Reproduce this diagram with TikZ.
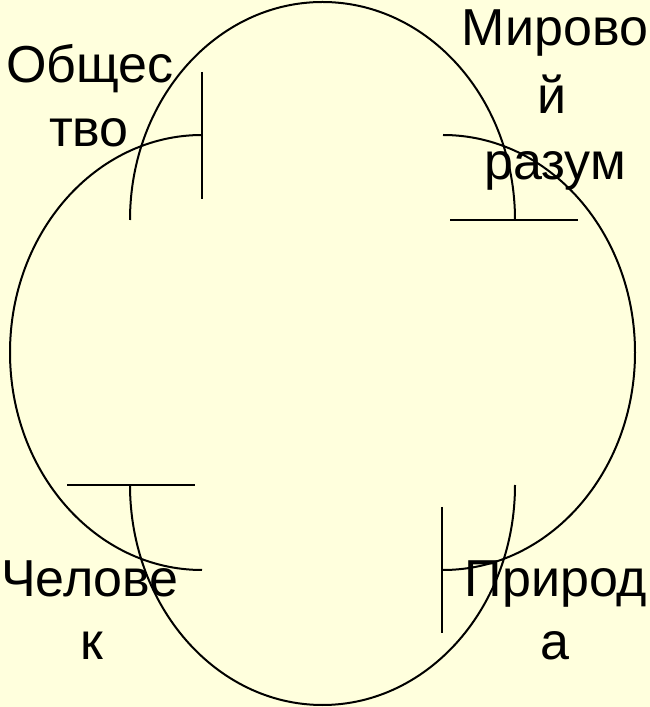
\documentclass[tikz,border=0pt]{standalone}
\usepackage{fontspec}
\setmainfont{Liberation Sans}
\definecolor{bgyellow}{RGB}{255,255,221}
\begin{document}
\begin{tikzpicture}[x=1pt,y=1pt,
  curve/.style={draw=black,line width=2pt},
  lbl/.style={anchor=base,inner sep=0pt,font=\fontsize{52}{57}\selectfont}]
\fill[bgyellow] (0,0) rectangle (650,707);
\useasboundingbox (0,0) rectangle (650,707);
% vertical pair of half-ellipses
\coordinate (tl) at (130,487);
\coordinate (bl) at (130,222);
\draw[curve] (tl) arc[start angle=180,end angle=0,x radius=192.5,y radius=218];
\draw[curve] (bl) arc[start angle=180,end angle=360,x radius=192.5,y radius=220];
% horizontal pair of half-ellipses
\coordinate (lt) at (202,572);
\coordinate (rt) at (443,572);
\draw[curve] (lt) arc[start angle=90,end angle=270,x radius=192,y radius=217.5];
\draw[curve] (rt) arc[start angle=90,end angle=-90,x radius=192,y radius=217.5];
% bars
\coordinate (b1a) at (202,635); \coordinate (b1b) at (202,508);
\coordinate (b2a) at (450,487); \coordinate (b2b) at (578,487);
\coordinate (b3a) at (67,222);  \coordinate (b3b) at (195,222);
\coordinate (b4a) at (442,200); \coordinate (b4b) at (442,74);
\draw[curve] (b1a) -- (b1b);
\draw[curve] (b2a) -- (b2b);
\draw[curve] (b3a) -- (b3b);
\draw[curve] (b4a) -- (b4b);
% labels
\node[lbl] (o1) at (90,624) {Общес};
\node[lbl] (o2) at (89,560) {тво};
\node[lbl] (m1) at (555,661) {Мирово};
\node[lbl] (m2) at (552,593) {й};
\node[lbl] (m3) at (555,527) {разум};
\node[lbl] (c1) at (90,110) {Челове};
\node[lbl] (c2) at (92,47) {к};
\node[lbl] (p1) at (556,110) {Природ};
\node[lbl] (p2) at (555,47) {а};
\end{tikzpicture}
\end{document}
